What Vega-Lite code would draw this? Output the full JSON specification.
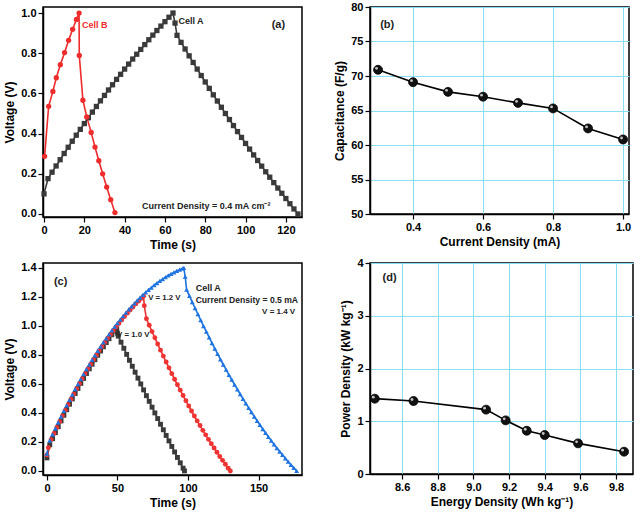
{
  "$schema": "https://vega.github.io/schema/vega-lite/v6.json",
  "padding": {"left": 2, "top": 0, "right": 2, "bottom": 2},
  "background": "white",
  "config": {
    "font": "Liberation Sans",
    "view": {"stroke": "black", "strokeWidth": 1.5},
    "axis": {
      "domainColor": "black", "domainWidth": 1.5,
      "tickColor": "black", "tickSize": 5, "tickWidth": 1.2,
      "labelFont": "Liberation Sans", "labelFontWeight": "bold", "labelFontSize": 11, "labelColor": "black",
      "titleFont": "Liberation Sans", "titleFontWeight": "bold", "titleFontSize": 12, "titleColor": "black",
      "grid": false, "labelPadding": 2, "titlePadding": 4, "labelOverlap": false, "tickCount": 30
    },
    "text": {"font": "Liberation Sans", "fontWeight": "bold"}
  },
  "resolve": {"scale": {"color": "independent", "shape": "independent"}},
  "datasets": {
    "ga": [
      {"s":"A","t":0,"v":0.10},{"s":"A","t":2,"v":0.176},{"s":"A","t":4,"v":0.208},{"s":"A","t":6,"v":0.239},{"s":"A","t":8,"v":0.270},{"s":"A","t":10,"v":0.301},{"s":"A","t":12,"v":0.332},{"s":"A","t":14,"v":0.362},{"s":"A","t":16,"v":0.392},{"s":"A","t":18,"v":0.421},{"s":"A","t":20,"v":0.450},{"s":"A","t":22,"v":0.479},{"s":"A","t":24,"v":0.507},{"s":"A","t":26,"v":0.535},{"s":"A","t":28,"v":0.563},{"s":"A","t":30,"v":0.590},{"s":"A","t":32,"v":0.617},{"s":"A","t":34,"v":0.643},{"s":"A","t":36,"v":0.670},{"s":"A","t":38,"v":0.695},{"s":"A","t":40,"v":0.721},{"s":"A","t":42,"v":0.746},{"s":"A","t":44,"v":0.771},{"s":"A","t":46,"v":0.795},{"s":"A","t":48,"v":0.819},{"s":"A","t":50,"v":0.843},{"s":"A","t":52,"v":0.867},{"s":"A","t":54,"v":0.890},{"s":"A","t":56,"v":0.913},{"s":"A","t":58,"v":0.935},{"s":"A","t":60,"v":0.957},{"s":"A","t":62,"v":0.979},{"s":"A","t":64,"v":1.0},{"s":"A","t":65,"v":0.95},{"s":"A","t":66,"v":0.889},{"s":"A","t":68,"v":0.854},{"s":"A","t":70,"v":0.821},{"s":"A","t":72,"v":0.787},{"s":"A","t":74,"v":0.754},{"s":"A","t":76,"v":0.721},{"s":"A","t":78,"v":0.689},{"s":"A","t":80,"v":0.657},{"s":"A","t":82,"v":0.625},{"s":"A","t":84,"v":0.593},{"s":"A","t":86,"v":0.562},{"s":"A","t":88,"v":0.531},{"s":"A","t":90,"v":0.500},{"s":"A","t":92,"v":0.470},{"s":"A","t":94,"v":0.440},{"s":"A","t":96,"v":0.410},{"s":"A","t":98,"v":0.381},{"s":"A","t":100,"v":0.351},{"s":"A","t":102,"v":0.323},{"s":"A","t":104,"v":0.294},{"s":"A","t":106,"v":0.266},{"s":"A","t":108,"v":0.238},{"s":"A","t":110,"v":0.210},{"s":"A","t":112,"v":0.183},{"s":"A","t":114,"v":0.156},{"s":"A","t":116,"v":0.129},{"s":"A","t":118,"v":0.103},{"s":"A","t":120,"v":0.077},{"s":"A","t":122,"v":0.051},{"s":"A","t":124,"v":0.025},{"s":"A","t":126,"v":0.0},
      {"s":"B","t":0.3,"v":0.287},{"s":"B","t":2.3,"v":0.536},{"s":"B","t":4.4,"v":0.61},{"s":"B","t":6.1,"v":0.678},{"s":"B","t":8.1,"v":0.743},{"s":"B","t":10.2,"v":0.803},{"s":"B","t":12.2,"v":0.864},{"s":"B","t":14.2,"v":0.919},{"s":"B","t":16.1,"v":0.968},{"s":"B","t":17.4,"v":1.0},{"s":"B","t":17.5,"v":0.789},{"s":"B","t":19.3,"v":0.566},{"s":"B","t":21.2,"v":0.483},{"s":"B","t":23.4,"v":0.406},{"s":"B","t":25.3,"v":0.333},{"s":"B","t":27.2,"v":0.265},{"s":"B","t":29.1,"v":0.2},{"s":"B","t":31.1,"v":0.134},{"s":"B","t":33.1,"v":0.071},{"s":"B","t":35.2,"v":0.007}
    ],
    "gc": [
      {"s":"1.0","t":0,"v":0.09},{"s":"1.0","t":2,"v":0.18},{"s":"1.0","t":4,"v":0.222},{"s":"1.0","t":6,"v":0.264},{"s":"1.0","t":8,"v":0.305},{"s":"1.0","t":10,"v":0.345},{"s":"1.0","t":12,"v":0.384},{"s":"1.0","t":14,"v":0.422},{"s":"1.0","t":16,"v":0.46},{"s":"1.0","t":18,"v":0.497},{"s":"1.0","t":20,"v":0.534},{"s":"1.0","t":22,"v":0.569},{"s":"1.0","t":24,"v":0.604},{"s":"1.0","t":26,"v":0.638},{"s":"1.0","t":28,"v":0.672},{"s":"1.0","t":30,"v":0.704},{"s":"1.0","t":32,"v":0.736},{"s":"1.0","t":34,"v":0.767},{"s":"1.0","t":36,"v":0.798},{"s":"1.0","t":38,"v":0.827},{"s":"1.0","t":40,"v":0.856},{"s":"1.0","t":42,"v":0.885},{"s":"1.0","t":44,"v":0.912},{"s":"1.0","t":46,"v":0.939},{"s":"1.0","t":48,"v":0.965},{"s":"1.0","t":49.5,"v":0.98},{"s":"1.0","t":50,"v":0.95},{"s":"1.0","t":50.5,"v":0.93},{"s":"1.0","t":52.5,"v":0.888},{"s":"1.0","t":54.5,"v":0.846},{"s":"1.0","t":56.5,"v":0.804},{"s":"1.0","t":58.5,"v":0.763},{"s":"1.0","t":60.5,"v":0.722},{"s":"1.0","t":62.5,"v":0.681},{"s":"1.0","t":64.5,"v":0.64},{"s":"1.0","t":66.5,"v":0.6},{"s":"1.0","t":68.5,"v":0.559},{"s":"1.0","t":70.5,"v":0.519},{"s":"1.0","t":72.5,"v":0.48},{"s":"1.0","t":74.5,"v":0.44},{"s":"1.0","t":76.5,"v":0.4},{"s":"1.0","t":78.5,"v":0.361},{"s":"1.0","t":80.5,"v":0.322},{"s":"1.0","t":82.5,"v":0.284},{"s":"1.0","t":84.5,"v":0.245},{"s":"1.0","t":86.5,"v":0.207},{"s":"1.0","t":88.5,"v":0.169},{"s":"1.0","t":90.5,"v":0.131},{"s":"1.0","t":92.5,"v":0.093},{"s":"1.0","t":94.5,"v":0.056},{"s":"1.0","t":96.5,"v":0.019},{"s":"1.0","t":97.5,"v":0.0},
      {"s":"1.2","t":0,"v":0.11},{"s":"1.2","t":1,"v":0.16},{"s":"1.2","t":3,"v":0.216},{"s":"1.2","t":5,"v":0.258},{"s":"1.2","t":7,"v":0.3},{"s":"1.2","t":9,"v":0.34},{"s":"1.2","t":11,"v":0.38},{"s":"1.2","t":13,"v":0.418},{"s":"1.2","t":15,"v":0.456},{"s":"1.2","t":17,"v":0.494},{"s":"1.2","t":19,"v":0.53},{"s":"1.2","t":21,"v":0.567},{"s":"1.2","t":23,"v":0.602},{"s":"1.2","t":25,"v":0.636},{"s":"1.2","t":27,"v":0.67},{"s":"1.2","t":29,"v":0.703},{"s":"1.2","t":31,"v":0.735},{"s":"1.2","t":33,"v":0.767},{"s":"1.2","t":35,"v":0.798},{"s":"1.2","t":37,"v":0.828},{"s":"1.2","t":39,"v":0.857},{"s":"1.2","t":41,"v":0.886},{"s":"1.2","t":43,"v":0.914},{"s":"1.2","t":45,"v":0.941},{"s":"1.2","t":47,"v":0.967},{"s":"1.2","t":49,"v":0.993},{"s":"1.2","t":51,"v":1.017},{"s":"1.2","t":53,"v":1.041},{"s":"1.2","t":55,"v":1.065},{"s":"1.2","t":57,"v":1.088},{"s":"1.2","t":59,"v":1.11},{"s":"1.2","t":61,"v":1.131},{"s":"1.2","t":63,"v":1.152},{"s":"1.2","t":65,"v":1.171},{"s":"1.2","t":67,"v":1.19},{"s":"1.2","t":68.5,"v":1.205},{"s":"1.2","t":69,"v":1.14},{"s":"1.2","t":70.5,"v":1.05},{"s":"1.2","t":72.5,"v":1.005},{"s":"1.2","t":74.5,"v":0.961},{"s":"1.2","t":76.5,"v":0.918},{"s":"1.2","t":78.5,"v":0.875},{"s":"1.2","t":80.5,"v":0.833},{"s":"1.2","t":82.5,"v":0.792},{"s":"1.2","t":84.5,"v":0.751},{"s":"1.2","t":86.5,"v":0.711},{"s":"1.2","t":88.5,"v":0.671},{"s":"1.2","t":90.5,"v":0.632},{"s":"1.2","t":92.5,"v":0.594},{"s":"1.2","t":94.5,"v":0.557},{"s":"1.2","t":96.5,"v":0.52},{"s":"1.2","t":98.5,"v":0.484},{"s":"1.2","t":100.5,"v":0.448},{"s":"1.2","t":102.5,"v":0.413},{"s":"1.2","t":104.5,"v":0.379},{"s":"1.2","t":106.5,"v":0.345},{"s":"1.2","t":108.5,"v":0.313},{"s":"1.2","t":110.5,"v":0.28},{"s":"1.2","t":112.5,"v":0.249},{"s":"1.2","t":114.5,"v":0.218},{"s":"1.2","t":116.5,"v":0.187},{"s":"1.2","t":118.5,"v":0.158},{"s":"1.2","t":120.5,"v":0.129},{"s":"1.2","t":122.5,"v":0.1},{"s":"1.2","t":124.5,"v":0.073},{"s":"1.2","t":126.5,"v":0.046},{"s":"1.2","t":128.5,"v":0.019},{"s":"1.2","t":130,"v":0.0},
      {"s":"1.4","t":0,"v":0.12},{"s":"1.4","t":2,"v":0.21},{"s":"1.4","t":4,"v":0.252},{"s":"1.4","t":6,"v":0.294},{"s":"1.4","t":8,"v":0.335},{"s":"1.4","t":10,"v":0.375},{"s":"1.4","t":12,"v":0.414},{"s":"1.4","t":14,"v":0.452},{"s":"1.4","t":16,"v":0.49},{"s":"1.4","t":18,"v":0.527},{"s":"1.4","t":20,"v":0.564},{"s":"1.4","t":22,"v":0.599},{"s":"1.4","t":24,"v":0.634},{"s":"1.4","t":26,"v":0.668},{"s":"1.4","t":28,"v":0.702},{"s":"1.4","t":30,"v":0.734},{"s":"1.4","t":32,"v":0.766},{"s":"1.4","t":34,"v":0.797},{"s":"1.4","t":36,"v":0.828},{"s":"1.4","t":38,"v":0.857},{"s":"1.4","t":40,"v":0.886},{"s":"1.4","t":42,"v":0.915},{"s":"1.4","t":44,"v":0.942},{"s":"1.4","t":46,"v":0.969},{"s":"1.4","t":48,"v":0.995},{"s":"1.4","t":50,"v":1.02},{"s":"1.4","t":52,"v":1.044},{"s":"1.4","t":54,"v":1.068},{"s":"1.4","t":56,"v":1.091},{"s":"1.4","t":58,"v":1.114},{"s":"1.4","t":60,"v":1.135},{"s":"1.4","t":62,"v":1.156},{"s":"1.4","t":64,"v":1.176},{"s":"1.4","t":66,"v":1.195},{"s":"1.4","t":68,"v":1.214},{"s":"1.4","t":70,"v":1.232},{"s":"1.4","t":72,"v":1.249},{"s":"1.4","t":74,"v":1.265},{"s":"1.4","t":76,"v":1.281},{"s":"1.4","t":78,"v":1.296},{"s":"1.4","t":80,"v":1.31},{"s":"1.4","t":82,"v":1.323},{"s":"1.4","t":84,"v":1.336},{"s":"1.4","t":86,"v":1.348},{"s":"1.4","t":88,"v":1.359},{"s":"1.4","t":90,"v":1.369},{"s":"1.4","t":92,"v":1.379},{"s":"1.4","t":94,"v":1.388},{"s":"1.4","t":96,"v":1.396},{"s":"1.4","t":97,"v":1.4},{"s":"1.4","t":98,"v":1.34},{"s":"1.4","t":99,"v":1.25},{"s":"1.4","t":101,"v":1.207},{"s":"1.4","t":103,"v":1.164},{"s":"1.4","t":105,"v":1.122},{"s":"1.4","t":107,"v":1.081},{"s":"1.4","t":109,"v":1.04},{"s":"1.4","t":111,"v":0.999},{"s":"1.4","t":113,"v":0.96},{"s":"1.4","t":115,"v":0.921},{"s":"1.4","t":117,"v":0.882},{"s":"1.4","t":119,"v":0.844},{"s":"1.4","t":121,"v":0.807},{"s":"1.4","t":123,"v":0.77},{"s":"1.4","t":125,"v":0.734},{"s":"1.4","t":127,"v":0.698},{"s":"1.4","t":129,"v":0.663},{"s":"1.4","t":131,"v":0.629},{"s":"1.4","t":133,"v":0.595},{"s":"1.4","t":135,"v":0.562},{"s":"1.4","t":137,"v":0.529},{"s":"1.4","t":139,"v":0.497},{"s":"1.4","t":141,"v":0.466},{"s":"1.4","t":143,"v":0.435},{"s":"1.4","t":145,"v":0.405},{"s":"1.4","t":147,"v":0.375},{"s":"1.4","t":149,"v":0.346},{"s":"1.4","t":151,"v":0.317},{"s":"1.4","t":153,"v":0.289},{"s":"1.4","t":155,"v":0.262},{"s":"1.4","t":157,"v":0.235},{"s":"1.4","t":159,"v":0.209},{"s":"1.4","t":161,"v":0.183},{"s":"1.4","t":163,"v":0.158},{"s":"1.4","t":165,"v":0.134},{"s":"1.4","t":167,"v":0.11},{"s":"1.4","t":169,"v":0.087},{"s":"1.4","t":171,"v":0.064},{"s":"1.4","t":173,"v":0.042},{"s":"1.4","t":175,"v":0.021},{"s":"1.4","t":177,"v":0.0}
    ],
    "cap": [
      {"cd":0.3,"c":70.9},{"cd":0.4,"c":69.1},{"cd":0.5,"c":67.7},{"cd":0.6,"c":67.0},{"cd":0.7,"c":66.1},{"cd":0.8,"c":65.3},{"cd":0.9,"c":62.4},{"cd":1.0,"c":60.8}
    ],
    "pow": [
      {"e":8.447,"p":1.428},{"e":8.664,"p":1.384},{"e":9.071,"p":1.22},{"e":9.181,"p":1.017},{"e":9.299,"p":0.82},{"e":9.4,"p":0.739},{"e":9.587,"p":0.581},{"e":9.845,"p":0.423}
    ]
  },
  "columns": 1,
  "align": "none",
  "spacing": 5,
  "concat": [
    {
      "spacing": 30,
      "hconcat": [
        {
          "width": 259, "height": 210,
          "layer": [
            {
              "data": {"name": "ga"},
              "mark": {"type": "line", "strokeWidth": 1.6},
              "encoding": {
                "x": {"field": "t", "type": "quantitative", "scale": {"domain": [-0.5, 128], "nice": false, "zero": false}, "axis": {"title": "Time (s)", "values": [0, 20, 40, 60, 80, 100, 120]}},
                "y": {"field": "v", "type": "quantitative", "scale": {"domain": [-0.015, 1.03], "nice": false}, "axis": {"title": "Voltage (V)", "values": [0, 0.2, 0.4, 0.6, 0.8, 1.0], "format": ".1f"}},
                "color": {"field": "s", "type": "nominal", "scale": {"domain": ["A", "B"], "range": ["#3a3a3a", "#ee2c2c"]}, "legend": null}
              }
            },
            {
              "data": {"name": "ga"},
              "mark": {"type": "point", "filled": true, "size": 28, "opacity": 1},
              "encoding": {
                "x": {"field": "t", "type": "quantitative"},
                "y": {"field": "v", "type": "quantitative"},
                "color": {"field": "s", "type": "nominal", "legend": null},
                "shape": {"field": "s", "type": "nominal", "scale": {"domain": ["A", "B"], "range": ["square", "circle"]}, "legend": null}
              }
            },
            {
              "data": {"values": [{"label": "Cell B"}]},
              "mark": {"type": "text", "align": "left", "baseline": "middle", "fontSize": 9, "color": "#ee2c2c"},
              "encoding": {"x": {"datum": 18.8}, "y": {"datum": 0.94}, "text": {"field": "label"}}
            },
            {
              "data": {"values": [{"label": "Cell A"}]},
              "mark": {"type": "text", "align": "left", "baseline": "middle", "fontSize": 9, "color": "#222"},
              "encoding": {"x": {"datum": 66.7}, "y": {"datum": 0.96}, "text": {"field": "label"}}
            },
            {
              "data": {"values": [{"label": "(a)"}]},
              "mark": {"type": "text", "align": "center", "baseline": "middle", "fontSize": 11, "color": "#222"},
              "encoding": {"x": {"datum": 116.3}, "y": {"datum": 0.94}, "text": {"field": "label"}}
            },
            {
              "data": {"values": [{"label": "Current Density = 0.4 mA cm⁻²"}]},
              "mark": {"type": "text", "align": "center", "baseline": "middle", "fontSize": 9, "color": "#222"},
              "encoding": {"x": {"datum": 80.5}, "y": {"datum": 0.04}, "text": {"field": "label"}}
            }
          ]
        },
        {
          "width": 259, "height": 207,
          "layer": [
            {
              "data": {"name": "cap"},
              "mark": {"type": "line", "strokeWidth": 1.6, "color": "black"},
              "encoding": {
                "x": {"field": "cd", "type": "quantitative", "scale": {"domain": [0.277, 1.017], "nice": false, "zero": false}, "axis": {"title": "Current Density (mA)", "values": [0.4, 0.6, 0.8, 1.0], "format": ".1f", "grid": true, "gridColor": "#86e0f2", "gridWidth": 1}},
                "y": {"field": "c", "type": "quantitative", "scale": {"domain": [50, 80], "nice": false, "zero": false}, "axis": {"title": "Capacitance (F/g)", "values": [50, 55, 60, 65, 70, 75, 80], "format": "d", "grid": true, "gridColor": "#86e0f2", "gridWidth": 1}}
              }
            },
            {
              "data": {"name": "cap"},
              "mark": {"type": "point", "filled": true, "size": 80, "color": "#111", "opacity": 1, "stroke": "#000", "strokeWidth": 0.8},
              "encoding": {
                "x": {"field": "cd", "type": "quantitative"},
                "y": {"field": "c", "type": "quantitative"}
              }
            },
            {
              "data": {"name": "cap"},
              "mark": {"type": "point", "filled": true, "size": 8, "color": "#d8d8d8", "opacity": 0.9, "xOffset": -1.5, "yOffset": -1.5},
              "encoding": {
                "x": {"field": "cd", "type": "quantitative"},
                "y": {"field": "c", "type": "quantitative"}
              }
            },
            {
              "data": {"values": [{"label": "(b)"}]},
              "mark": {"type": "text", "align": "center", "baseline": "middle", "fontSize": 11, "color": "#222"},
              "encoding": {"x": {"datum": 0.326}, "y": {"datum": 77.4}, "text": {"field": "label"}}
            }
          ]
        }
      ]
    },
    {
      "spacing": 36,
      "hconcat": [
        {
          "width": 259, "height": 212,
          "layer": [
            {
              "data": {"name": "gc"},
              "mark": {"type": "line", "strokeWidth": 1.6},
              "encoding": {
                "x": {"field": "t", "type": "quantitative", "scale": {"domain": [-2.8, 180.8], "nice": false, "zero": false}, "axis": {"title": "Time (s)", "values": [0, 50, 100, 150]}},
                "y": {"field": "v", "type": "quantitative", "scale": {"domain": [-0.028, 1.434], "nice": false}, "axis": {"title": "Voltage (V)", "values": [0, 0.2, 0.4, 0.6, 0.8, 1.0, 1.2, 1.4], "format": ".1f"}},
                "color": {"field": "s", "type": "nominal", "scale": {"domain": ["1.0", "1.2", "1.4"], "range": ["#3a3a3a", "#ee3333", "#1f74e0"]}, "legend": null}
              }
            },
            {
              "data": {"name": "gc"},
              "mark": {"type": "point", "filled": true, "size": 24, "opacity": 1},
              "encoding": {
                "x": {"field": "t", "type": "quantitative"},
                "y": {"field": "v", "type": "quantitative"},
                "color": {"field": "s", "type": "nominal", "legend": null},
                "shape": {"field": "s", "type": "nominal", "scale": {"domain": ["1.0", "1.2", "1.4"], "range": ["square", "circle", "triangle-up"]}, "legend": null}
              }
            },
            {
              "data": {"values": [{"label": "(c)"}]},
              "mark": {"type": "text", "align": "center", "baseline": "middle", "fontSize": 11, "color": "#222"},
              "encoding": {"x": {"datum": 9.7}, "y": {"datum": 1.3}, "text": {"field": "label"}}
            },
            {
              "data": {"values": [{"label": "V = 1.2 V"}]},
              "mark": {"type": "text", "align": "left", "baseline": "middle", "fontSize": 7.8, "color": "#222"},
              "encoding": {"x": {"datum": 71.8}, "y": {"datum": 1.195}, "text": {"field": "label"}}
            },
            {
              "data": {"values": [{"label": "V = 1.0 V"}]},
              "mark": {"type": "text", "align": "left", "baseline": "middle", "fontSize": 7.8, "color": "#222"},
              "encoding": {"x": {"datum": 49.7}, "y": {"datum": 0.936}, "text": {"field": "label"}}
            },
            {
              "data": {"values": [{"label": "Cell A"}]},
              "mark": {"type": "text", "align": "left", "baseline": "middle", "fontSize": 9, "color": "#222"},
              "encoding": {"x": {"datum": 105.4}, "y": {"datum": 1.262}, "text": {"field": "label"}}
            },
            {
              "data": {"values": [{"label": "Current Density = 0.5 mA"}]},
              "mark": {"type": "text", "align": "left", "baseline": "middle", "fontSize": 8.6, "color": "#222"},
              "encoding": {"x": {"datum": 105.4}, "y": {"datum": 1.18}, "text": {"field": "label"}}
            },
            {
              "data": {"values": [{"label": "V = 1.4 V"}]},
              "mark": {"type": "text", "align": "left", "baseline": "middle", "fontSize": 8, "color": "#222"},
              "encoding": {"x": {"datum": 152.5}, "y": {"datum": 1.097}, "text": {"field": "label"}}
            }
          ]
        },
        {
          "width": 263, "height": 211,
          "layer": [
            {
              "data": {"name": "pow"},
              "mark": {"type": "line", "strokeWidth": 1.6, "color": "black"},
              "encoding": {
                "x": {"field": "e", "type": "quantitative", "scale": {"domain": [8.42, 9.895], "nice": false, "zero": false}, "axis": {"title": "Energy Density (Wh kg⁻¹)", "values": [8.6, 8.8, 9.0, 9.2, 9.4, 9.6, 9.8], "format": ".1f", "grid": true, "gridColor": "#86e0f2", "gridWidth": 1}},
                "y": {"field": "p", "type": "quantitative", "scale": {"domain": [0, 4], "nice": false}, "axis": {"title": "Power Density (kW kg⁻¹)", "values": [0, 1, 2, 3, 4], "format": "d", "grid": true, "gridColor": "#86e0f2", "gridWidth": 1}}
              }
            },
            {
              "data": {"name": "pow"},
              "mark": {"type": "point", "filled": true, "size": 80, "color": "#111", "opacity": 1, "stroke": "#000", "strokeWidth": 0.8},
              "encoding": {
                "x": {"field": "e", "type": "quantitative"},
                "y": {"field": "p", "type": "quantitative"}
              }
            },
            {
              "data": {"name": "pow"},
              "mark": {"type": "point", "filled": true, "size": 8, "color": "#d8d8d8", "opacity": 0.9, "xOffset": -1.5, "yOffset": -1.5},
              "encoding": {
                "x": {"field": "e", "type": "quantitative"},
                "y": {"field": "p", "type": "quantitative"}
              }
            },
            {
              "data": {"values": [{"label": "(d)"}]},
              "mark": {"type": "text", "align": "center", "baseline": "middle", "fontSize": 11, "color": "#222"},
              "encoding": {"x": {"datum": 8.53}, "y": {"datum": 3.72}, "text": {"field": "label"}}
            }
          ]
        }
      ]
    }
  ]
}
